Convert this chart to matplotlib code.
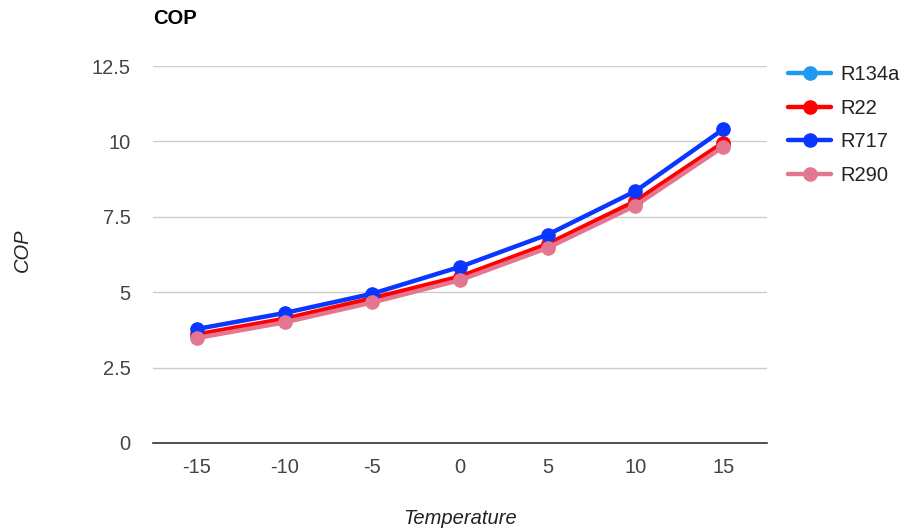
import matplotlib
matplotlib.use("Agg")
import matplotlib.pyplot as plt

temperature = [-15, -10, -5, 0, 5, 10, 15]
series_names = ["R134a", "R22", "R717", "R290"]
r134a = [3.55, 4.08, 4.75, 5.47, 6.54, 7.96, 9.90]
r22 = [3.60, 4.12, 4.80, 5.52, 6.60, 8.02, 9.96]
r717 = [3.78, 4.31, 4.95, 5.84, 6.91, 8.35, 10.40]
r290 = [3.48, 4.00, 4.66, 5.40, 6.47, 7.87, 9.82]
colors = ["#1e9af0", "#ff0000", "#0a37ff", "#e57690"]
yticks = [0, 2.5, 5, 7.5, 10, 12.5]
ytick_labels = ["0", "2.5", "5", "7.5", "10", "12.5"]

plt.rcParams['font.family'] = ['Liberation Sans', 'DejaVu Sans']
FS = 14.5
fig = plt.figure(figsize=(9.04, 5.29), dpi=100)
ax = fig.add_axes([153/904, 1-443/529, (767-153)/904, (443-66)/529])

for name, vals, c in zip(series_names, [r134a, r22, r717, r290], colors):
    ax.plot(temperature, vals, color=c, lw=3.2, marker='o', ms=9.5,
            label=name, solid_capstyle='round', clip_on=False)

ax.set_xlim(-17.5, 17.5)
ax.set_ylim(0, 12.5)
ax.set_yticks(yticks)
ax.set_yticklabels(ytick_labels)
ax.set_xticks(temperature)
ax.set_xticklabels([str(t) for t in temperature])
for s in ['top', 'right', 'left']:
    ax.spines[s].set_visible(False)
ax.spines['bottom'].set_color('#333333')
ax.spines['bottom'].set_linewidth(1.2)
ax.grid(axis='y', color='#cccccc', lw=1.0)
ax.set_axisbelow(True)
ax.tick_params(axis='both', length=0, labelsize=FS, labelcolor='#444444')
ax.tick_params(axis='y', pad=16)
ax.tick_params(axis='x', pad=11)

fig.text(22/904, 1-250/529, "COP", rotation=90, style='italic', fontsize=FS,
         color='#222222', ha='center', va='center')
fig.text(460/904, 1-518/529, "Temperature", style='italic', fontsize=FS,
         color='#222222', ha='center', va='center')
fig.text(153/904, 1-19/529, "COP", fontweight='bold', fontsize=FS,
         color='#000000', ha='left', va='center')

leg = ax.legend(loc='upper left', bbox_to_anchor=(780/904, 1-57/529),
                bbox_transform=fig.transFigure, frameon=False, fontsize=FS,
                handlelength=2.15, labelspacing=0.72, handletextpad=0.45,
                borderaxespad=0)
for t in leg.get_texts():
    t.set_color('#222222')

fig.savefig("out.png", dpi=100)
